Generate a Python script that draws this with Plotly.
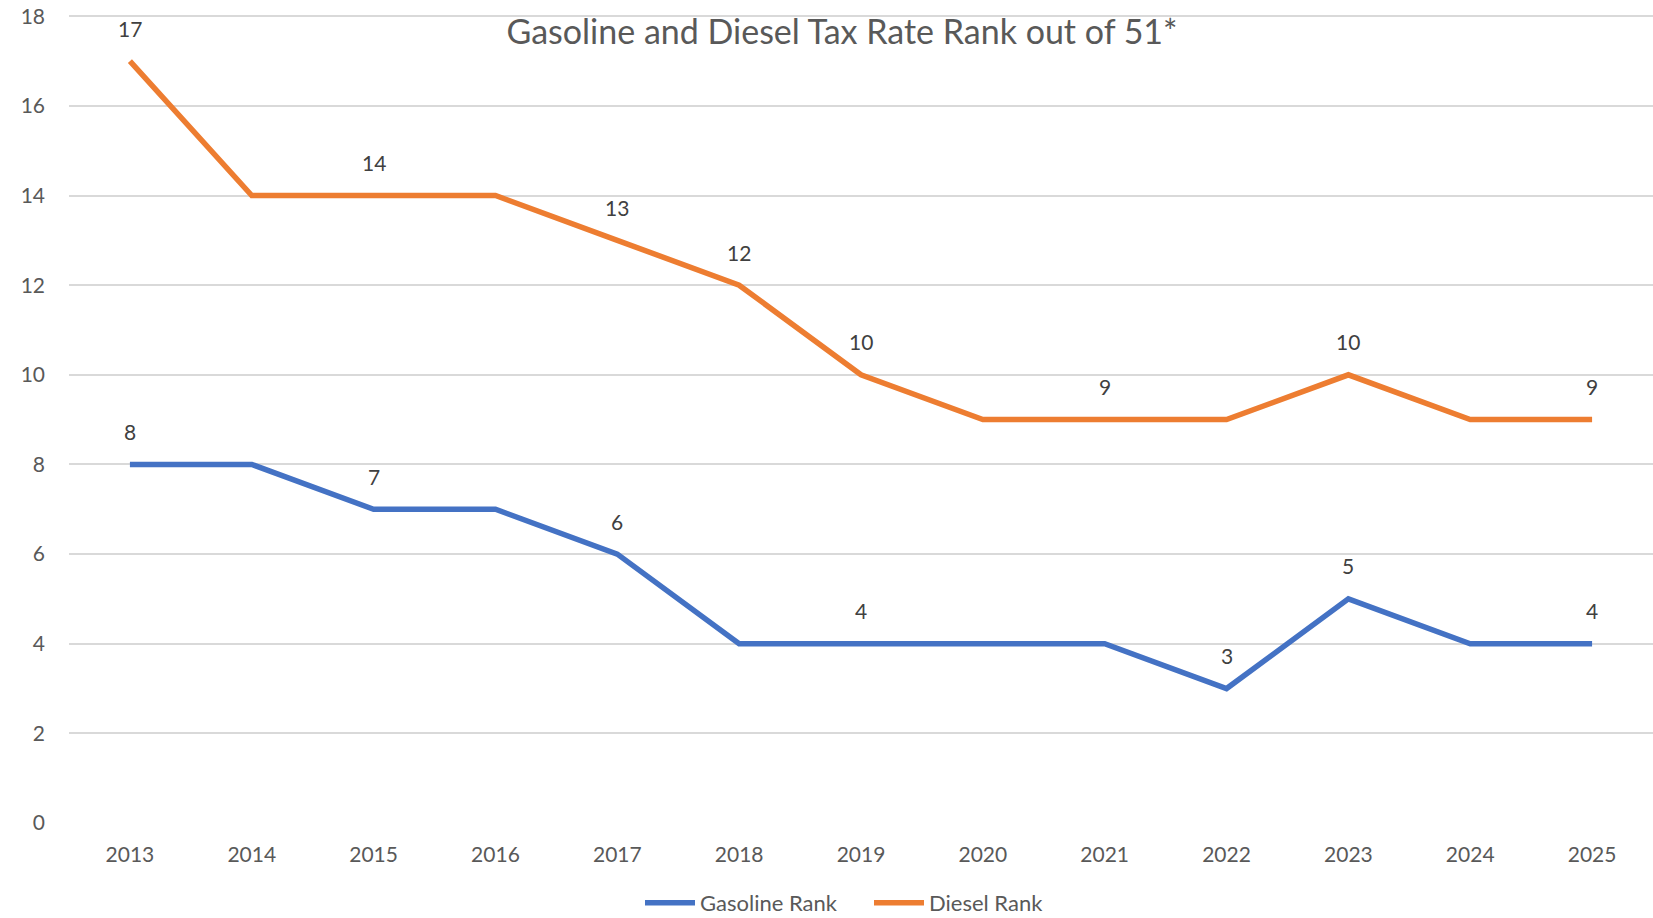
import plotly.graph_objects as go

years = ["2013", "2014", "2015", "2016", "2017", "2018", "2019", "2020", "2021", "2022", "2023", "2024", "2025"]
gasoline = [8, 8, 7, 7, 6, 4, 4, 4, 4, 3, 5, 4, 4]
diesel = [17, 14, 14, 14, 13, 12, 10, 9, 9, 9, 10, 9, 9]
# which points carry a visible data label in the original
gasoline_labeled = ["2013", "2015", "2017", "2019", "2022", "2023", "2025"]
diesel_labeled = ["2013", "2015", "2017", "2018", "2019", "2021", "2023", "2025"]
y_ticks = [0, 2, 4, 6, 8, 10, 12, 14, 16, 18]

BLUE = "#4472C4"
ORANGE = "#ED7D31"
FONT = "Lato"
TXT = "#595959"
W, H = 1653, 918

fig = go.Figure()
fig.add_trace(go.Scatter(x=years, y=gasoline, mode="lines", name="Gasoline Rank",
                         line=dict(color=BLUE, width=5.5)))
fig.add_trace(go.Scatter(x=years, y=diesel, mode="lines", name="Diesel Rank",
                         line=dict(color=ORANGE, width=5.5)))

for vals, labeled in [(gasoline, gasoline_labeled), (diesel, diesel_labeled)]:
    for i, (x, v) in enumerate(zip(years, vals)):
        if x in labeled:
            fig.add_annotation(x=i, y=v, xref="x", yref="y", text=str(v), showarrow=False,
                               yshift=33, font=dict(family=FONT, size=21, color="#404040"))

fig.update_layout(
    width=W, height=H,
    paper_bgcolor="white", plot_bgcolor="white",
    margin=dict(l=69, r=0, t=14, b=95),
    font=dict(family=FONT, size=21, color=TXT),
    title=dict(text="Gasoline and Diesel Tax Rate Rank out of 51*",
               x=(842 / W), xanchor="center", xref="container",
               y=1 - 32 / H, yanchor="middle", yref="container",
               font=dict(family=FONT, size=34, color=TXT)),
    showlegend=True,
    legend=dict(orientation="h", x=640 / W, xanchor="left", xref="container",
                y=1 - 903 / H, yanchor="middle", yref="container",
                font=dict(family=FONT, size=22, color=TXT), itemwidth=50,
                entrywidth=164, entrywidthmode="pixels",
                bgcolor="rgba(0,0,0,0)"),
    xaxis=dict(type="category", range=[-0.5, 12.5], showgrid=False, showline=False,
               ticks="", tickfont=dict(family=FONT, size=21, color=TXT), ticklabelstandoff=17,
               zeroline=False, automargin=False),
    yaxis=dict(range=[0, 18.05], tickvals=y_ticks, showgrid=True, gridcolor="#D9D9D9",
               gridwidth=1.5, showline=False, zeroline=False, ticks="",
               tickfont=dict(family=FONT, size=21, color=TXT), ticklabelstandoff=23,
               ticklabeloverflow="allow", automargin=False),
)

fig.write_html("out.html", config={"displayModeBar": False},
               post_script="document.body.style.margin='0';")
